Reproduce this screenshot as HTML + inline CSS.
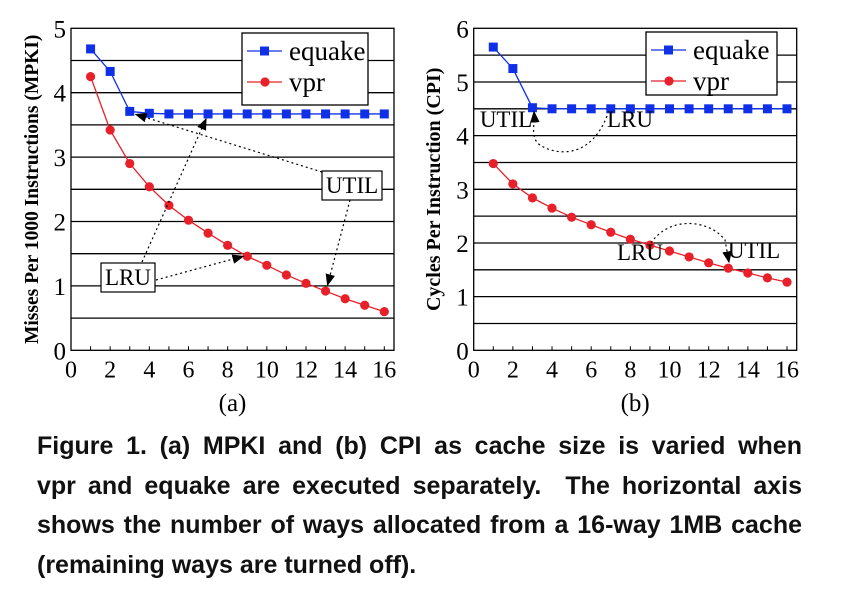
<!DOCTYPE html>
<html><head><meta charset="utf-8"><style>
body{margin:0;background:#fff;width:842px;height:597px;overflow:hidden}
svg{position:absolute;left:0;top:0}
.cap{position:absolute;left:37px;top:427px;width:765px;font:bold 25px/39.5px "Liberation Sans",sans-serif;color:#111}
.cap div{text-align:justify;text-align-last:justify;white-space:nowrap}
.cap div.last{text-align-last:left}
</style></head><body>
<svg id="c" width="842" height="430" font-family="Liberation Serif, serif"></svg>
<div class="cap">
<div>Figure 1. (a) MPKI and (b) CPI as cache size is varied when</div>
<div>vpr and equake are executed separately.&nbsp; The horizontal axis</div>
<div>shows the number of ways allocated from a 16-way 1MB cache</div>
<div class="last">(remaining ways are turned off).</div>
</div>
<script>
const ways=[1,2,3,4,5,6,7,8,9,10,11,12,13,14,15,16];
const xTicks=[0,2,4,6,8,10,12,14,16];
const mpkiEquake=[4.68,4.33,3.71,3.68,3.67,3.67,3.67,3.67,3.67,3.67,3.67,3.67,3.67,3.67,3.67,3.67];
const mpkiVpr=[4.25,3.42,2.90,2.54,2.25,2.02,1.82,1.63,1.46,1.32,1.17,1.04,0.92,0.80,0.70,0.60];
const cpiEquake=[5.65,5.25,4.52,4.50,4.50,4.50,4.50,4.50,4.50,4.50,4.50,4.50,4.50,4.50,4.50,4.50];
const cpiVpr=[3.48,3.10,2.84,2.65,2.48,2.34,2.20,2.07,1.96,1.85,1.74,1.63,1.53,1.44,1.35,1.27];
const mpkiTicks=[0,1,2,3,4,5];
const cpiTicks=[0,1,2,3,4,5,6];
const NS="http://www.w3.org/2000/svg";
const svg=document.getElementById('c');
function el(t,a,p){const e=document.createElementNS(NS,t);for(const k in a)e.setAttribute(k,a[k]);(p||svg).appendChild(e);return e;}
function chart(o){
 const g=el('g',{});
 
 
 const X=v=>o.x0+(v)*(o.x16-o.x0)/16, Y=v=>o.y0-(v)*(o.y0-o.yTop)/o.max;
 for(let v=0.5;v<o.max;v+=0.5){const l=el('line',{x1:o.x0,x2:o.xr,y1:Y(v),y2:Y(v),stroke:'#000','stroke-width':1.3},g);}
 el('rect',{x:o.x0,y:o.yTop,width:o.xr-o.x0,height:o.y0-o.yTop,fill:'none',stroke:'#000','stroke-width':1.3},g);
 for(const t of o.yTicks){const tx=el('text',{x:o.x0-5,y:Y(t)+9,'text-anchor':'end','font-size':25},g);tx.textContent=t;}
 for(const t of xTicks){const tx=el('text',{x:X(t),y:o.y0+27,'text-anchor':'middle','font-size':24},g);tx.textContent=t;}
 for(const w of ways){el('line',{x1:X(w),x2:X(w),y1:o.y0,y2:o.y0-4,stroke:'#000'},g);}
 const yt=el('text',{transform:`translate(${o.ylx},${(o.y0+o.yTop)/2}) rotate(-90)`,'text-anchor':'middle','font-size':o.ylfs,'font-weight':'bold'},g);yt.textContent=o.ylabel;
 const sub=el('text',{x:(o.x0+o.xr)/2,y:411,'text-anchor':'middle','font-size':25},g);sub.textContent=o.sub;
 const series=[[o.eq,'#1030e8','sq','equake-series'],[o.vp,'#e8202a','ci','vpr-series']];
 for(const [d,c,m,n] of series){
  const pl=el('polyline',{points:d.map((v,i)=>X(ways[i])+','+Y(v)).join(' '),fill:'none',stroke:c,'stroke-width':1.3},g);
  
  d.forEach((v,i)=>{const mk=m=='sq'?el('rect',{x:X(ways[i])-4.5,y:Y(v)-4.5,width:9,height:9,fill:c},g):el('circle',{cx:X(ways[i]),cy:Y(v),r:4.6,fill:c},g);
   });
 }
 const lg=el('g',{},g);
 const L=o.leg;
 el('rect',{x:L[0],y:L[1],width:L[2],height:L[3],fill:'#fff',stroke:'#000','stroke-width':1.3},lg);
 el('line',{x1:L[0]+5,x2:L[0]+40,y1:L[1]+18,y2:L[1]+18,stroke:'#1030e8','stroke-width':1.3},lg);
 el('rect',{x:L[0]+18,y:L[1]+13.5,width:9,height:9,fill:'#1030e8'},lg);
 el('line',{x1:L[0]+5,x2:L[0]+40,y1:L[1]+49,y2:L[1]+49,stroke:'#e8202a','stroke-width':1.3},lg);
 el('circle',{cx:L[0]+23,cy:L[1]+49,r:4.6,fill:'#e8202a'},lg);
 let t=el('text',{x:L[0]+47,y:L[1]+27,'font-size':27},lg);t.textContent='equake';
 t=el('text',{x:L[0]+47,y:L[1]+58,'font-size':27},lg);t.textContent='vpr';
 return {g,X,Y};
}
el('defs',{}).innerHTML='<marker id="ah" markerWidth="10" markerHeight="8" refX="9" refY="4" orient="auto"><path d="M0,0 L10,4 L0,8 Z" fill="#000"/></marker>';
const A=chart({name:'chart-a-mpki',x0:71,x16:384.3,xr:394,y0:350.3,yTop:28.3,max:5,yTicks:mpkiTicks,eq:mpkiEquake,vp:mpkiVpr,ylabel:'Misses Per 1000 Instructions (MPKI)',ylx:38,ylfs:19.5,sub:'(a)',leg:[242,33,126,72]});
const B=chart({name:'chart-b-cpi',x0:473.7,x16:787,xr:796.7,y0:350.3,yTop:28.3,max:6,yTicks:cpiTicks,eq:cpiEquake,vp:cpiVpr,ylabel:'Cycles Per Instruction (CPI)',ylx:440,ylfs:20,sub:'(b)',leg:[646,32,131,63]});
function arrow(d,n){const p=el('path',{d,fill:'none',stroke:'#000','stroke-width':1.2,'stroke-dasharray':'2,3','marker-end':'url(#ah)'});}
function box(x,y,w,h,s,n,bx){const g=el('g',{});if(bx)el('rect',{x,y,width:w,height:h,fill:'#fff',stroke:'#000','stroke-width':1.2},g);const t=el('text',{x:x+w/2,y:y+h-7,'text-anchor':'middle','font-size':23},g);t.textContent=s;}
arrow(`M322,172 L${A.X(3)+6},${A.Y(mpkiEquake[2])+3}`,'util-arrow-a1');
arrow(`M350,200 L${A.X(13)+2},${A.Y(mpkiVpr[12])-6}`,'util-arrow-a2');
arrow(`M142,262 L${A.X(7)-2},${A.Y(mpkiEquake[6])+5}`,'lru-arrow-a1');
arrow(`M156,280 L${A.X(9)-4},${A.Y(mpkiVpr[8])}`,'lru-arrow-a2');
box(322,171,60,29,'UTIL','util-label-a',true);
box(101,263,54,29,'LRU','lru-label-a',true);
arrow(`M607,116 C590,160 555,155 540,145 C530,138 535,125 534,${B.Y(cpiEquake[2])+4}`,'annotation-arrow-b1');
arrow(`M651,243 C670,215 710,220 725,240 L729,${B.Y(cpiVpr[12])-6}`,'annotation-arrow-b2');
box(481,112,50,22,'UTIL','util-label-b1',false);
box(608,112,44,22,'LRU','lru-label-b1',false);
box(618,245,44,22,'LRU','lru-label-b2',false);
box(729,243,50,22,'UTIL','util-label-b2',false);
</script>
</body></html>
